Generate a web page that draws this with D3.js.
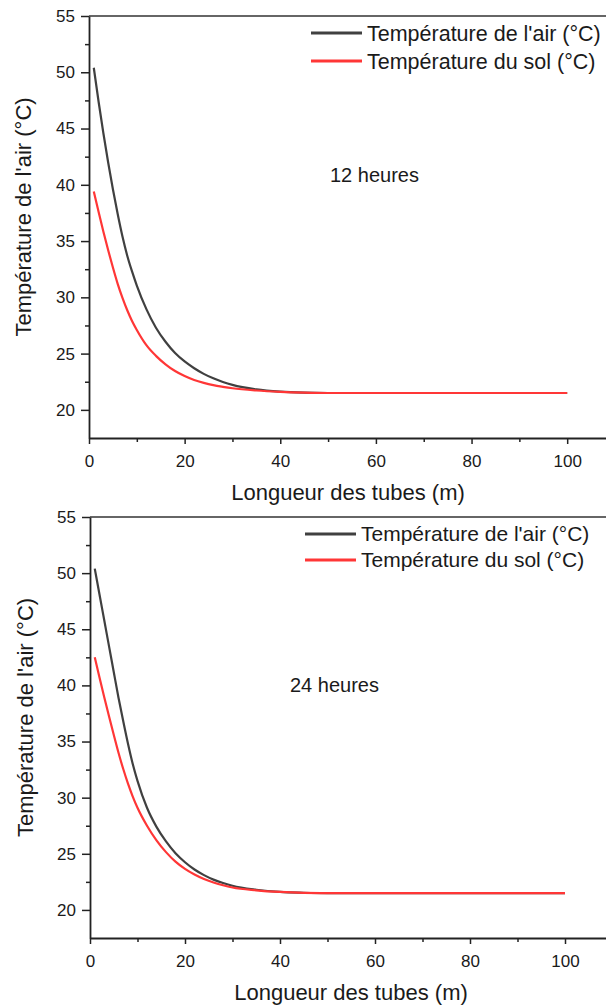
<!DOCTYPE html>
<html>
<head>
<meta charset="utf-8">
<script src="https://cdn.jsdelivr.net/npm/d3@7"></script>
<style>
  body { margin: 0; background: #fff; }
  svg text { font-family: "Liberation Sans", Arial, sans-serif; fill: #1a1a1a; }
</style>
</head>
<body>
<div id="chart"></div>
<script>
// tube length (m) where values were read
const distances = [1, 2, 3, 4, 5, 6, 7, 8, 9, 10, 12, 14, 16, 18, 20, 22, 24, 26, 28, 30, 35, 40, 45, 50, 60, 70, 80, 90, 100]

// 12 heures
const airTop = [50.4, 47.4, 44.6, 42.0, 39.6, 37.4, 35.4, 33.7, 32.3, 31.05, 28.95, 27.3, 26.05, 25.05, 24.3, 23.7, 23.2, 22.8, 22.48, 22.22, 21.82, 21.62, 21.53, 21.5, 21.5, 21.5, 21.5, 21.5, 21.5]
const solTop = [39.4, 37.6, 35.85, 34.2, 32.65, 31.2, 29.95, 28.85, 27.9, 27.1, 25.75, 24.8, 24.05, 23.45, 23.0, 22.65, 22.4, 22.2, 22.05, 21.92, 21.72, 21.6, 21.53, 21.5, 21.5, 21.5, 21.5, 21.5, 21.5]

// 24 heures
const airBottom = [50.4, 48.1, 45.8, 43.5, 41.2, 38.9, 36.8, 34.8, 33.0, 31.5, 29.1, 27.4, 26.1, 25.05, 24.25, 23.6, 23.1, 22.7, 22.4, 22.15, 21.8, 21.6, 21.53, 21.5, 21.5, 21.5, 21.5, 21.5, 21.5]
const solBottom = [42.5, 40.7, 38.95, 37.25, 35.6, 34.0, 32.55, 31.25, 30.1, 29.1, 27.5, 26.2, 25.15, 24.3, 23.65, 23.15, 22.75, 22.45, 22.2, 22.0, 21.75, 21.6, 21.52, 21.5, 21.5, 21.5, 21.5, 21.5, 21.5]

const yTicks = [20, 25, 30, 35, 40, 45, 50, 55]
const yMinor = [22.5, 27.5, 32.5, 37.5, 42.5, 47.5, 52.5]
const xTicks = [0, 20, 40, 60, 80, 100]
const xMinor = [10, 30, 50, 70, 90]

const seriesNames = ["Température de l'air (°C)", "Température du sol (°C)"]
const colors = ["#404040", "#ff3636"]
const yTitle = "Température de l'air (°C)"
const xTitle = "Longueur des tubes (m)"

const W = 606, H = 1005

const svg = d3.select("#chart").append("svg")
    .attr("width", W)
    .attr("height", H)

function drawPanel(p) {
    const x = d3.scaleLinear().domain([0, 110]).range([p.left, p.right])
    const y = d3.scaleLinear().domain([17.5, 55]).range([p.bottom, p.top])
    const g = svg.append("g")

    // top frame
    g.append("line")
        .attr("x1", p.left).attr("x2", W)
        .attr("y1", p.top).attr("y2", p.top)
        .attr("stroke", "#333").attr("stroke-width", 1.5)

    // minor ticks
    g.append("g")
        .attr("transform", "translate(" + p.left + ",0)")
        .call(d3.axisLeft(y).tickValues(yMinor).tickSize(4).tickFormat(""))
        .call(a => a.select(".domain").remove())
    g.append("g")
        .attr("transform", "translate(0," + p.bottom + ")")
        .call(d3.axisBottom(x).tickValues(xMinor).tickSize(4).tickFormat(""))
        .call(a => a.select(".domain").remove())

    g.append("g")
        .attr("transform", "translate(" + p.left + ",0)")
        .call(d3.axisLeft(y).tickValues(yTicks).tickSize(8).tickPadding(6).tickSizeOuter(0))
    g.append("g")
        .attr("transform", "translate(0," + p.bottom + ")")
        .call(d3.axisBottom(x).tickValues(xTicks).tickSize(6).tickPadding(11).tickSizeOuter(0))

    g.selectAll(".tick line").attr("stroke", "#222").attr("stroke-width", 1.5)
    g.selectAll(".domain").attr("stroke", "#222").attr("stroke-width", 1.8)
    g.selectAll(".tick text").style("font-size", "17px").attr("fill", "#1a1a1a")

    // lines
    const line = d3.line()
        .x((d, i) => x(distances[i]))
        .y(d => y(d))
        .curve(d3.curveMonotoneX)

    p.series.forEach((s, i) => {
        g.append("path")
            .datum(s)
            .attr("fill", "none")
            .attr("stroke", colors[i])
            .attr("stroke-width", 2.2)
            .attr("d", line)
    })

    // axis titles
    g.append("text")
        .attr("transform", "translate(" + p.yTitleX + "," + ((p.top + p.bottom) / 2 - 10) + ") rotate(-90)")
        .attr("text-anchor", "middle")
        .style("font-size", "22px")
        .text(yTitle)

    g.append("text")
        .attr("x", p.xTitleX)
        .attr("y", p.bottom + 62)
        .attr("text-anchor", "middle")
        .style("font-size", "22px")
        .text(xTitle)

    // legend
    seriesNames.forEach((name, i) => {
        const ly = p.legendY + i * p.legendGap
        g.append("line")
            .attr("x1", p.legendX).attr("x2", p.legendX + 51)
            .attr("y1", ly).attr("y2", ly)
            .attr("stroke", colors[i]).attr("stroke-width", 3)
        g.append("text")
            .attr("x", p.legendX + 56)
            .attr("y", ly)
            .attr("dy", "0.35em")
            .style("font-size", p.legendFont + "px")
            .text(name)
    })

    g.append("text")
        .attr("x", p.labelX)
        .attr("y", p.labelY)
        .style("font-size", "20px")
        .text(p.label)
}

drawPanel({
    left: 89, right: 615, top: 16, bottom: 438,
    series: [airTop, solTop],
    yTitleX: 31, xTitleX: 348,
    legendX: 311, legendY: 33, legendGap: 28, legendFont: 21.5,
    label: "12 heures", labelX: 330, labelY: 182
})

drawPanel({
    left: 90, right: 612.5, top: 517, bottom: 938,
    series: [airBottom, solBottom],
    yTitleX: 33, xTitleX: 351,
    legendX: 305, legendY: 534, legendGap: 26, legendFont: 21,
    label: "24 heures", labelX: 290, labelY: 692
})
</script>
</body>
</html>
